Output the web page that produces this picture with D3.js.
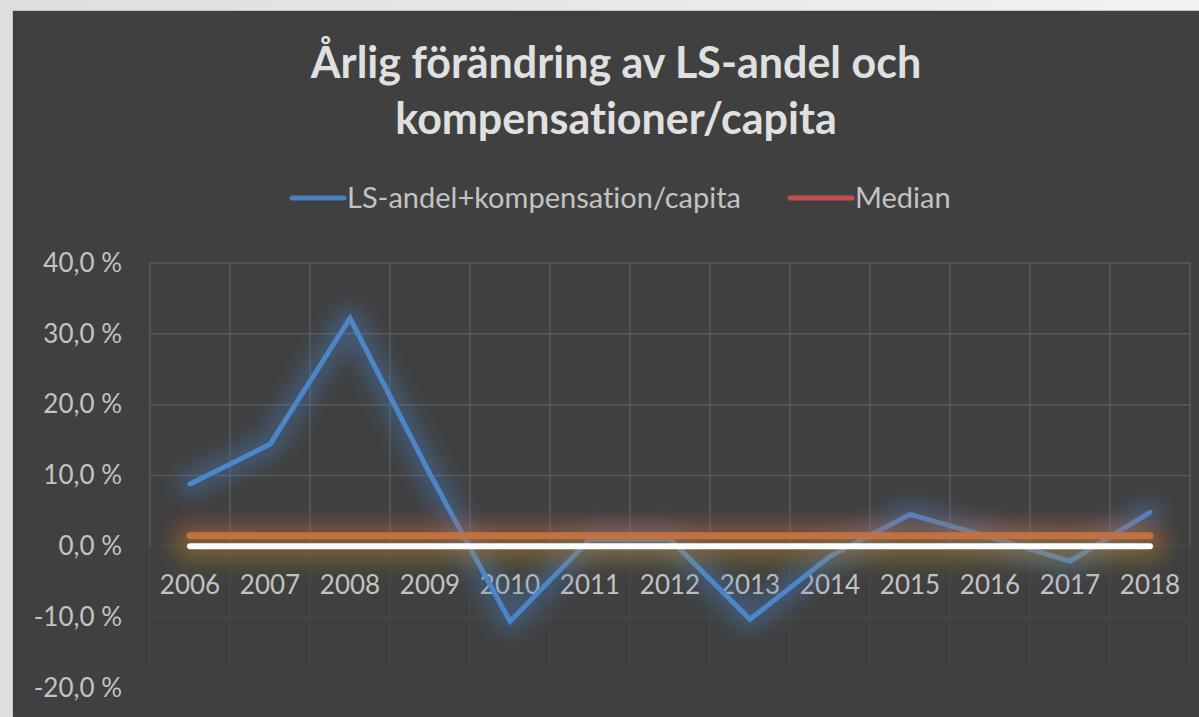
<!DOCTYPE html>
<html>
<head>
<meta charset="utf-8">
<script src="https://cdn.jsdelivr.net/npm/d3@7"></script>
<style>
  body { margin: 0; background: #ececec; }
  svg { display: block; }
  text { font-variant-ligatures: none; }
</style>
</head>
<body>
<div id="chart"></div>
<script>
// data
var years = ["2006", "2007", "2008", "2009", "2010", "2011", "2012", "2013", "2014", "2015", "2016", "2017", "2018"];
var lsValues = [8.8, 14.4, 32.2, 10.2, -10.6, 1.0, 1.0, -10.3, -1.4, 4.5, 1.3, -2.1, 4.8];
var medianValue = 1.5;
var zeroValue = 0;
var yTicks = [-20, -10, 0, 10, 20, 30, 40];
var titleLines = ["Årlig förändring av LS-andel och", "kompensationer/capita"];
var legendNames = ["LS-andel+kompensation/capita", "Median"];

var svgWidth = 1199;
var svgHeight = 717;
var margin = { top: 263, right: 9, bottom: 29, left: 150 };
var width = svgWidth - margin.left - margin.right;
var height = svgHeight - margin.top - margin.bottom;

var svg = d3.select("#chart")
    .append("svg")
    .attr("width", svgWidth)
    .attr("height", svgHeight);

// page background and chart panel
var bgGrad = svg.append("defs").append("linearGradient")
    .attr("id", "pageGrad").attr("x1", 0).attr("x2", 1).attr("y1", 0).attr("y2", 0);
bgGrad.append("stop").attr("offset", "0%").attr("stop-color", "#dedede");
bgGrad.append("stop").attr("offset", "100%").attr("stop-color", "#f2f2f2");
svg.append("rect").attr("width", svgWidth).attr("height", svgHeight).attr("fill", "url(#pageGrad)");
svg.append("rect")
    .attr("x", 12.5).attr("y", 10.5)
    .attr("width", svgWidth).attr("height", svgHeight)
    .attr("fill", "#404040")
    .attr("stroke", "#c4c4c4")
    .attr("stroke-width", 1);

// glow filter in user space, so flat lines get it too
var defs = svg.select("defs");
defs.append("filter").attr("id", "glow")
    .attr("filterUnits", "userSpaceOnUse")
    .attr("x", -150).attr("y", -300).attr("width", 1400).attr("height", 800)
    .append("feGaussianBlur").attr("stdDeviation", 10);

var g = svg.append("g")
    .attr("transform", `translate(${margin.left}, ${margin.top})`);

var x = d3.scaleBand()
    .domain(years)
    .range([0, width]);

var y = d3.scaleLinear()
    .domain([-20, 40])
    .range([height, 0]);

var cx = d => x(d) + x.bandwidth() / 2;

// gridlines: stronger above zero, faint below
g.append("g")
    .selectAll("line")
    .data(yTicks)
    .enter()
    .append("line")
    .attr("x1", 0).attr("x2", width)
    .attr("y1", d => y(d)).attr("y2", d => y(d))
    .attr("stroke", d => d > 0 ? "#5a5a5a" : "#474747")
    .attr("stroke-width", 1.5);

var vLines = x.domain().map(d => x(d)).concat([width]);
g.append("g")
    .selectAll("line")
    .data(vLines)
    .enter()
    .append("line")
    .attr("x1", d => d).attr("x2", d => d)
    .attr("y1", y(40)).attr("y2", y(0))
    .attr("stroke", "#5a5a5a")
    .attr("stroke-width", 1.5);
g.append("g")
    .selectAll("line")
    .data(vLines)
    .enter()
    .append("line")
    .attr("x1", d => d).attr("x2", d => d)
    .attr("y1", y(0)).attr("y2", y(-20) - 20)
    .attr("stroke", "#474747")
    .attr("stroke-width", 1.5);

// y axis labels
var leftAxis = d3.axisLeft(y)
    .tickValues(yTicks)
    .tickSize(0)
    .tickPadding(28)
    .tickFormat(d => d3.format(".1f")(d).replace(".", ",").replace("−", "-") + " %");
var yAx = g.append("g").call(leftAxis);
yAx.select(".domain").remove();
yAx.selectAll("text")
    .attr("fill", "#c3c3c3")
    .style("font-family", "Lato, 'Open Sans', sans-serif")
    .style("font-size", "26px");

// x axis labels sit under the zero line
var bottomAxis = d3.axisBottom(x).tickSize(0).tickPadding(29);
var xAx = g.append("g")
    .attr("transform", `translate(0, ${y(0)})`)
    .call(bottomAxis);
xAx.select(".domain").remove();
xAx.selectAll("text")
    .attr("fill", "#c3c3c3")
    .style("font-family", "Lato, 'Open Sans', sans-serif")
    .style("font-size", "26px");

var line = d3.line()
    .x((d, i) => cx(years[i]))
    .y(d => y(d));

var medianData = years.map(() => medianValue);
var zeroData = years.map(() => zeroValue);

// series drawn in order, each glow then its line
g.append("path").datum(lsValues).attr("d", line)
    .attr("fill", "none").attr("stroke", "#4a7fc1").attr("stroke-width", 26)
    .attr("stroke-linejoin", "round").attr("stroke-linecap", "round")
    .attr("opacity", 0.4).attr("filter", "url(#glow)");
g.append("path").datum(lsValues).attr("d", line)
    .attr("fill", "none").attr("stroke", "#4b86c9").attr("stroke-width", 5)
    .attr("stroke-linejoin", "miter").attr("stroke-linecap", "round");

g.append("path").datum(medianData).attr("d", line)
    .attr("fill", "none").attr("stroke", "#c0504d").attr("stroke-width", 32)
    .attr("stroke-linecap", "round").attr("opacity", 0.3).attr("filter", "url(#glow)");
g.append("path").datum(medianData).attr("d", line)
    .attr("fill", "none").attr("stroke", "#c7654a").attr("stroke-width", 7)
    .attr("stroke-linecap", "round");

g.append("path").datum(zeroData).attr("d", line)
    .attr("fill", "none").attr("stroke", "#b89a20").attr("stroke-width", 32)
    .attr("stroke-linecap", "round").attr("opacity", 0.3).attr("filter", "url(#glow)");
g.append("path").datum(zeroData).attr("d", line)
    .attr("fill", "none").attr("stroke", "#ffffff").attr("stroke-width", 6)
    .attr("stroke-linecap", "round");

// title
svg.append("g").selectAll("text")
    .data(titleLines)
    .enter()
    .append("text")
    .attr("x", 616)
    .attr("y", (d, i) => 78 + i * 56)
    .attr("text-anchor", "middle")
    .attr("fill", "#e0e0e0")
    .style("font-family", "Lato, 'Open Sans', sans-serif")
    .style("font-weight", "bold")
    .style("font-size", "43px")
    .text(d => d);

// legend
var legendColors = ["#4a7fc1", "#c0504d"];
var legendX = [292, 790];
var legend = svg.append("g").selectAll("g")
    .data(legendNames)
    .enter()
    .append("g")
    .attr("transform", (d, i) => `translate(${legendX[i]}, 198)`);
legend.append("line")
    .attr("x1", 0).attr("x2", (d, i) => i == 0 ? 52 : 62)
    .attr("stroke", (d, i) => legendColors[i])
    .attr("stroke-width", 5)
    .attr("stroke-linecap", "round");
legend.append("text")
    .attr("x", (d, i) => i == 0 ? 55 : 65)
    .attr("y", 10)
    .attr("fill", "#c3c3c3")
    .style("font-family", "Lato, 'Open Sans', sans-serif")
    .style("font-size", "29px")
    .text(d => d);
</script>
</body>
</html>
